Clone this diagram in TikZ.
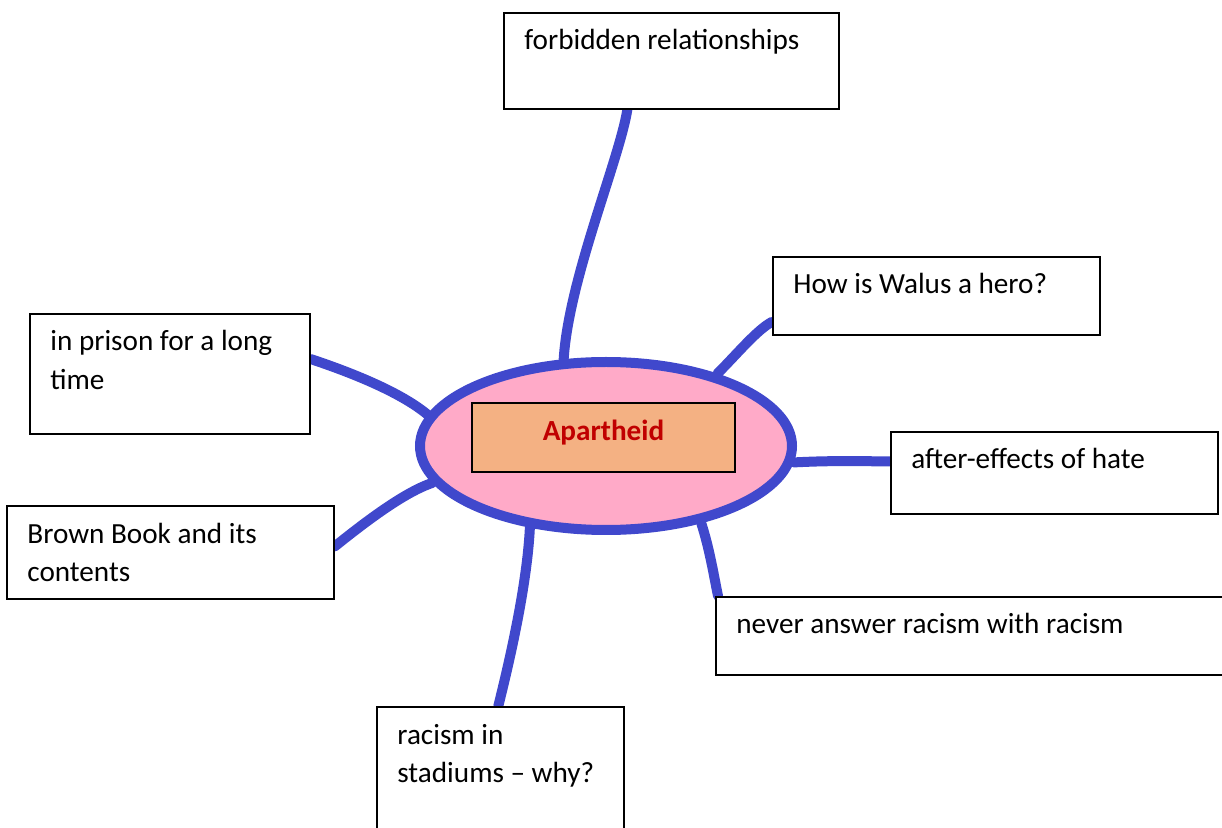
\documentclass[tikz,border=0pt]{standalone}
\usepackage{fontspec}
\setmainfont{Carlito}
\usetikzlibrary{shapes.geometric,backgrounds}

\definecolor{mapblue}{RGB}{64,72,204}
\definecolor{mappink}{RGB}{255,170,200}
\definecolor{mappeach}{RGB}{244,177,131}
\definecolor{mapred}{RGB}{192,0,0}

\begin{document}
\begin{tikzpicture}[x=0.5pt,y=-0.5pt,
    topic/.style={draw=black,line width=0.8pt,fill=white,anchor=north west,inner sep=0pt},
    tag/.style={anchor=base west,xshift=10.5pt,yshift=-19pt,inner sep=0pt,align=left,
                font=\fontsize{14.6}{19.5}\selectfont},
    twoline/.style={tag,yshift=-19.5pt},
    link/.style={draw=mapblue,line width=5pt,line cap=round}]
  \useasboundingbox (0,0) rectangle (1222,828);

  % the oval in the middle
  \node[ellipse,draw=mapblue,fill=mappink,line width=5pt,
        minimum width=186pt,minimum height=84pt] (blob) at (606,446) {};
  \node[draw=black,line width=0.8pt,fill=mappeach,minimum width=131.5pt,minimum height=34.5pt,
        text=mapred,text height=9pt,text depth=5.5pt,
        font=\fontsize{14.6}{17}\selectfont\bfseries] (apartheid) at (603.5,437.5) {Apartheid};

  % the topics round it
  \node[topic,minimum width=167.5pt,minimum height=48pt,
        label={[tag]north west:forbidden relationships}] (forbidden) at (503,12) {};
  \node[topic,minimum width=163.5pt,minimum height=39pt,
        label={[tag]north west:How is Walus a hero?}] (walus) at (772,256) {};
  \node[topic,minimum width=140pt,minimum height=60pt,
        label={[twoline]north west:in prison for a long\\time}] (prison) at (29,313) {};
  \node[topic,minimum width=163.5pt,minimum height=41pt,
        label={[tag]north west:after-effects of hate}] (effects) at (890,431) {};
  \node[topic,minimum width=163.5pt,minimum height=46.5pt,
        label={[twoline]north west:Brown Book and its\\contents}] (brown) at (6,505) {};
  \node[topic,minimum width=260pt,minimum height=39pt,
        label={[tag]north west:never answer racism with racism}] (never) at (715,596) {};
  \node[topic,minimum width=123.5pt,minimum height=70pt,
        label={[twoline]north west:racism in\\stadiums – why?}] (stadiums) at (376,706) {};

  \begin{scope}[on background layer]
    \draw[link] (blob.116) .. controls +(5,-80) and +(-8,50) .. (forbidden.228);
    \draw[link] (blob.33) .. controls +(20,-20) and +(-15,8) .. (walus.189);
    \draw[link] (blob.170) .. controls +(-30,-25) and +(30,10) .. (prison.6);
    \draw[link] (blob.192) .. controls +(-30,10) and +(25,-20) .. (brown.2);
    \draw[link] (blob.355) .. controls +(40,-2) and +(-40,0) .. (effects.176);
    \draw[link] (blob.321) .. controls +(8,25) and +(-5,-25) .. ([xshift=1.5pt]never.north west);
    \draw[link] (blob.227) .. controls +(-3,60) and +(10,-40) .. ([xshift=-1pt]stadiums.north);
  \end{scope}
\end{tikzpicture}
\end{document}
